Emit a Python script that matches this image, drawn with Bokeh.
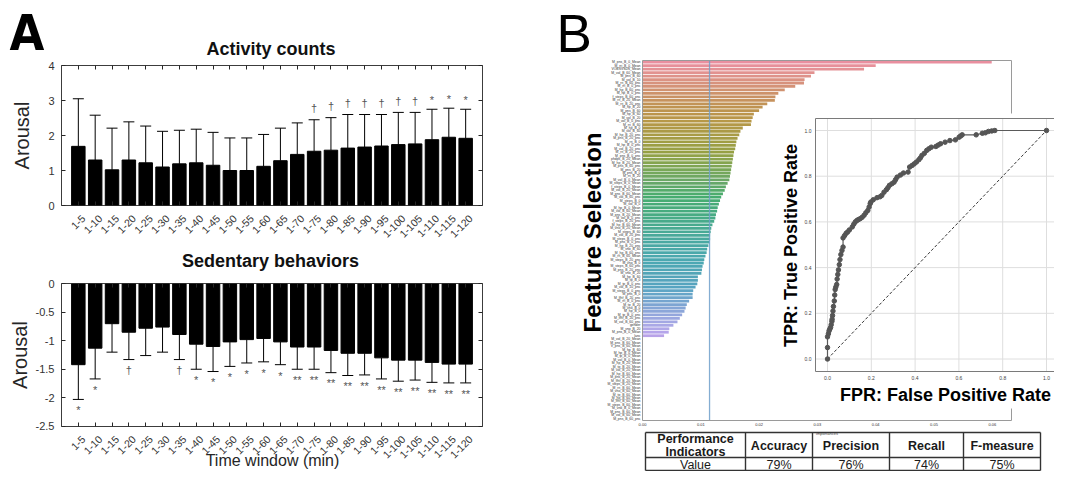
import math
import colorsys
from bokeh.plotting import figure
from bokeh.models import Range1d, LinearAxis, FixedTicker, Whisker, TeeHead, ColumnDataSource
from bokeh.core.properties import value
from bokeh.embed import file_html
from bokeh.resources import INLINE

# ---------------- data ----------------
windows = ["1-5", "1-10", "1-15", "1-20", "1-25", "1-30", "1-35", "1-40", "1-45", "1-50",
           "1-55", "1-60", "1-65", "1-70", "1-75", "1-80", "1-85", "1-90", "1-95", "1-100",
           "1-105", "1-110", "1-115", "1-120"]
activity_mean = [1.69, 1.30, 1.02, 1.30, 1.22, 1.10, 1.19, 1.22, 1.15, 1.00, 1.00, 1.12,
                 1.28, 1.46, 1.55, 1.58, 1.64, 1.67, 1.70, 1.74, 1.76, 1.88, 1.95, 1.92]
activity_sd = [1.36, 1.28, 1.19, 1.09, 1.05, 1.02, 0.96, 0.96, 0.94, 0.93, 0.93, 0.91,
               0.93, 0.90, 0.90, 0.93, 0.96, 0.93, 0.90, 0.92, 0.90, 0.87, 0.83, 0.83]
activity_marks = ["", "", "", "", "", "", "", "", "", "", "", "", "", "",
                  "†", "†", "†", "†", "†", "†", "†", "*", "*", "*"]
sedentary_mean = [-1.42, -1.13, -0.70, -0.85, -0.78, -0.76, -0.89, -1.06, -1.10, -1.02, -0.98, -0.96,
                  -1.02, -1.11, -1.11, -1.17, -1.22, -1.22, -1.30, -1.34, -1.34, -1.38, -1.41, -1.41]
sedentary_sd = [0.61, 0.54, 0.50, 0.48, 0.48, 0.44, 0.44, 0.44, 0.44, 0.43, 0.41, 0.41,
                0.40, 0.39, 0.39, 0.39, 0.39, 0.38, 0.37, 0.37, 0.35, 0.35, 0.33, 0.33]
sedentary_marks = ["*", "*", "", "†", "", "", "†", "*", "*", "*", "*", "*", "*",
                   "**", "**", "**", "**", "**", "**", "**", "**", "**", "**", "**"]
activity_yticks = [0, 1, 2, 3, 4]
sedentary_yticks = [0, -0.5, -1, -1.5, -2, -2.5]
sedentary_ylabels = ["0", "-0.5", "-1", "-1.5", "-2", "-2.5"]

feature_names = [
    "M_pns_B_0_Mean", "M_rri_B_0_Mean", "VOBSVSDS_Mean", "M_vol_B_60_Mean", "M_pns_B_60", "M_vol_B_10",
    "M_rri_B_60_pnc", "M_rri_B_0_pnc", "M_hp_B_60_pnc", "M_hp_B_0_pnc",
    "f_steps_B_60_pnc", "M_rri_B_20_Mean", "M_rri_B_20_pnc", "M_hp_B_20", "M_pns_B_60", "M_hp_B_60",
    "M_vol_B_20", "M_vol_B_0_pnc", "M_rri_B_60", "M_hp_B_0",
    "M_vol_B_60", "M_hp_B_20_pnc", "M_pns_B_20_pnc", "M_rri_B_0", "M_hp_B_0_pnc", "M_vol_B_20_pnc",
    "M_rri_B_20_pnc", "M_pns_B_0_pnc", "phdps_B_20_Mean", "M_hp_B_20_Mean",
    "M_pns_B_60_pnc", "M_pns_B_20", "M_pns_B_0", "M_rri_B_20", "M_vol_B_0_Mean", "M_steps_B_0_Mean",
    "f_steps_B_0_Mean", "M_vol_B_20_Mean", "M_pns_B_60_Mean", "M_vol_B_60_pnc",
    "M_steps_B_0", "M_vol_B_0", "M_hp_B_0_Mean", "M_vol_B_60_Mean", "M_pns_B_20_Mean", "M_vol_B_0_pnc",
    "f_steps_B_20_pnc", "M_hp_B_60_Mean", "M_vno_B_20_Mean", "M_steps_B_60",
    "M_vol_B_20_pnc", "M_steps_B_0_pnc", "M_pns_B_0_pnc", "M_hp_B_20_pnc", "M_vno_B_60", "M_hp_B_60_pnc",
    "M_rri_B_60_Mean", "M_steps_B_20_pnc", "M_vno_B_0", "M_steps_B_60_pnc",
    "M_pns_B_20_pnc", "M_vno_B_20", "M_hp_B_60", "M_tp_B_0", "M_tp_B_0_pnc", "M_vol_B_10_pnc",
    "M_steps_B_0_pnc", "M_pns_B_0", "M_lfhf_B_20_pnc", "M_rri_B_0_pnc",
    "M_tp_B_20", "M_vno_B_0", "M_hp_B_0", "M_tp_B_0_pnc", "M_lfhf_B_20_pnc", "M_vol_B_60_pnc",
    "gender", "M_vno_B_20", "M_pns_B_0_Mean", "lanc",
    "M_vol_B_20_Mean", "M_pns_B_60_Mean", "V_pns_B_60_Mean", "M_hp_B_60", "M_hp_B_0_Mean", "M_tp_B_0_Mean",
    "M_vol_B_0_Mean", "M_hp_B_20_Mean", "M_tp_B_20_Mean", "M_vol_B_20_Mean", "M_hp_B_60_Mean",
    "M_pns_B_20_Mean", "M_lfhf_B_20_Mean", "M_steps_B_20_Mean", "M_rri_B_60_Mean", "M_vno_B_60_Mean",
    "M_tp_B_60_Mean", "M_hp_B_60_Mean", "M_lfhf_B_60_Mean", "M_steps_B_60_Mean", "M_vno_B_0_Mean",
    "M_pns_B_60_Mean", "M_vol_B_60_Mean", "M_pns_B_60_pnc"]
feature_importance = [
    0.0599, 0.0400, 0.0380, 0.0295, 0.0289, 0.0278, 0.0277, 0.0262, 0.0244, 0.0233,
    0.0228, 0.0227, 0.0214, 0.0206, 0.0200, 0.0191, 0.0189, 0.0187, 0.0186, 0.0172,
    0.0168, 0.0166, 0.0163, 0.0161, 0.0160, 0.0159, 0.0157, 0.0156, 0.0155, 0.0154,
    0.0153, 0.0152, 0.0151, 0.0150, 0.0149, 0.0146, 0.0143, 0.0141, 0.0138, 0.0135,
    0.0133, 0.0131, 0.0129, 0.0128, 0.0126, 0.0125, 0.0123, 0.0120, 0.0118, 0.0117,
    0.0116, 0.0116, 0.0115, 0.0113, 0.0111, 0.0110, 0.0108, 0.0106, 0.0105, 0.0103,
    0.0102, 0.0101, 0.0095, 0.0095, 0.0094, 0.0091, 0.0087, 0.0086, 0.0086, 0.0080,
    0.0076, 0.0074, 0.0072, 0.0068, 0.0064, 0.0060, 0.0053, 0.0046, 0.0045, 0.0037]
importance_threshold = 0.0115
importance_ticks = [0.0, 0.01, 0.02, 0.03, 0.04, 0.05, 0.06]
importance_tick_labels = ["0.00", "0.01", "0.02", "0.03", "0.04", "0.05", "0.06"]

fpr = [0.0, 0.0, 0.0, 0.004, 0.007, 0.010, 0.014, 0.017, 0.020, 0.021, 0.023, 0.025, 0.027, 0.031,
       0.033, 0.035, 0.038, 0.042, 0.044, 0.047, 0.050, 0.054, 0.057, 0.061, 0.066, 0.071, 0.071,
       0.078, 0.085, 0.092, 0.100, 0.113, 0.120, 0.127, 0.134, 0.141, 0.149, 0.158, 0.167, 0.175,
       0.184, 0.190, 0.195, 0.198, 0.209, 0.226, 0.240, 0.248, 0.258, 0.269, 0.276, 0.283, 0.294,
       0.304, 0.311, 0.318, 0.333, 0.347, 0.368, 0.375, 0.386, 0.396, 0.406, 0.417, 0.424, 0.431,
       0.442, 0.453, 0.463, 0.474, 0.495, 0.505, 0.516, 0.537, 0.559, 0.584, 0.601, 0.608, 0.615,
       0.679, 0.707, 0.721, 0.735, 0.750, 0.764, 1.0]
tpr = [0.0, 0.05, 0.097, 0.110, 0.123, 0.130, 0.138, 0.150, 0.165, 0.174, 0.190, 0.210, 0.230, 0.254,
       0.280, 0.304, 0.315, 0.326, 0.350, 0.370, 0.390, 0.413, 0.435, 0.457, 0.475, 0.490, 0.530,
       0.540, 0.550, 0.556, 0.565, 0.578, 0.590, 0.600, 0.606, 0.610, 0.614, 0.620, 0.629, 0.640,
       0.650, 0.665, 0.680, 0.687, 0.697, 0.706, 0.710, 0.716, 0.730, 0.741, 0.750, 0.760, 0.767,
       0.774, 0.785, 0.796, 0.805, 0.814, 0.818, 0.840, 0.847, 0.854, 0.862, 0.872, 0.880, 0.891,
       0.900, 0.913, 0.920, 0.927, 0.930, 0.936, 0.942, 0.949, 0.956, 0.959, 0.971, 0.976, 0.981,
       0.981, 0.988, 0.990, 0.996, 0.998, 1.0, 1.0]
roc_ticks = [0.0, 0.2, 0.4, 0.6, 0.8, 1.0]
roc_tick_labels = ["0.0", "0.2", "0.4", "0.6", "0.8", "1.0"]
chance = [0.0, 1.0]

table_header = ["Performance\nIndicators", "Accuracy", "Precision", "Recall", "F-measure"]
table_values = ["Value", "79%", "76%", "74%", "75%"]

# ---------------- layout (page pixel geometry) ----------------
FX0, FX1 = 0, 1054
FY0, FY1 = 0, 471
FONT = "Liberation Sans"


def rng(d0, p0, d1, p1, a, b):
    k = (d1 - d0) / (p1 - p0)
    return Range1d(start=d0 + (a - p0) * k, end=d0 + (b - p0) * k)


p = figure(width=FX1 - FX0, height=FY1 - FY0, x_range=Range1d(FX0, FX1), y_range=Range1d(FY1, FY0),
           x_axis_location=None, y_axis_location=None, toolbar_location=None,
           output_backend="svg", min_border=0, title=None)
p.outline_line_color = None
p.background_fill_color = "white"
p.border_fill_color = "white"
p.xgrid.grid_line_color = None
p.ygrid.grid_line_color = None

n_win = len(windows)
idx = list(range(n_win))
n_feat = len(feature_names)
rows = list(range(n_feat))

IMP_PX0, IMP_PX_PER = 642.0, 5830.0
imp_max = (1011 - IMP_PX0) / IMP_PX_PER

p.extra_x_ranges = {
    "win": rng(-1, 61, n_win, 482, FX0, FX1),
    "imp": rng(0.0, IMP_PX0, 0.01, IMP_PX0 + IMP_PX_PER * 0.01, FX0, FX1),
    "rocx": rng(0.0, 827, 1.0, 1046, FX0, FX1),
}
p.extra_y_ranges = {
    "acy": rng(0, 205, 4, 65, FY1, FY0),
    "sby": rng(0, 283.3, -2.5, 425.7, FY1, FY0),
    "feat": rng(-0.5, 60, n_feat - 0.5, 420, FY1, FY0),
    "rocy": rng(0.0, 358.5, 1.0, 130, FY1, FY0),
}


def add_axis(side, xr, yr, loc, bounds, ticks, labels=None, show_labels=True, style=None):
    ax = LinearAxis(x_range_name=xr, y_range_name=yr, fixed_location=loc, bounds=bounds,
                    ticker=FixedTicker(ticks=list(ticks)))
    for k, v in (style or {}).items():
        setattr(ax, k, v)
    if labels is not None:
        ax.major_label_overrides = {t: l for t, l in zip(ticks, labels)}
    if not show_labels:
        ax.major_label_text_color = None
    p.add_layout(ax, side)
    return ax


def label(x, y, s, size, bold=False, angle=0.0, color="black", font=FONT, align="center"):
    p.text(x=[x], y=[y], text=[s], angle=angle, text_align=align, text_baseline="middle",
           text_font=value(font), text_font_style="bold" if bold else "normal",
           text_font_size=size, text_color=color)


mat = dict(axis_line_color="#262626", axis_line_width=0.9, major_tick_line_color="#262626",
           major_tick_in=4, major_tick_out=0, major_label_text_font=FONT,
           major_label_text_color="#333333", major_label_text_font_size="11px")
ylab = dict(mat, major_label_standoff=7, axis_label="Arousal", axis_label_text_font=FONT,
            axis_label_text_font_size="20px", axis_label_text_font_style="normal",
            axis_label_text_color="#262626")
xlab_glyph = dict(angle=math.pi / 4, text_align="right", text_baseline="middle", x_offset=5, y_offset=11,
                  text_font=value(FONT), text_font_size="10.5px", text_color="#333333")

# ---------------- A: Activity counts ----------------
p.vbar(x=idx, top=activity_mean, bottom=0, width=0.8, fill_color="black", line_color="black",
       x_range_name="win", y_range_name="acy")
src_a = ColumnDataSource(dict(x=idx, lo=activity_mean,
                              hi=[m + s for m, s in zip(activity_mean, activity_sd)]))
p.add_layout(Whisker(source=src_a, base="x", lower="lo", upper="hi", dimension="height",
                     x_range_name="win", y_range_name="acy", line_color="black", line_width=1,
                     upper_head=TeeHead(size=11, line_color="black", line_width=1), lower_head=None))
p.text(x=idx, y=[m + s + (0.34 if mk == "†" else 0.27) for m, s, mk in zip(activity_mean, activity_sd, activity_marks)],
       text=activity_marks, x_range_name="win", y_range_name="acy", text_align="center",
       text_baseline="middle", text_font_size="11px", text_color="#555555", text_font=value(FONT))
add_axis("below", "win", "acy", 0, (-1, n_win), idx, show_labels=False, style=mat)
add_axis("above", "win", "acy", 4, (-1, n_win), idx, show_labels=False, style=mat)
add_axis("left", "win", "acy", -1, (0, 4), activity_yticks, style=dict(ylab, axis_label_standoff=12))
add_axis("right", "win", "acy", n_win, (0, 4), activity_yticks, show_labels=False, style=mat)
p.text(x=idx, y=[0] * n_win, text=windows, x_range_name="win", y_range_name="acy", **xlab_glyph)

# ---------------- A: Sedentary behaviors ----------------
p.vbar(x=idx, top=0, bottom=sedentary_mean, width=0.8, fill_color="black", line_color="black",
       x_range_name="win", y_range_name="sby")
src_s = ColumnDataSource(dict(x=idx, hi=sedentary_mean,
                              lo=[m - s for m, s in zip(sedentary_mean, sedentary_sd)]))
p.add_layout(Whisker(source=src_s, base="x", lower="lo", upper="hi", dimension="height",
                     x_range_name="win", y_range_name="sby", line_color="black", line_width=1,
                     lower_head=TeeHead(size=11, line_color="black", line_width=1), upper_head=None))
p.text(x=idx, y=[m - s - 0.19 for m, s in zip(sedentary_mean, sedentary_sd)], text=sedentary_marks,
       x_range_name="win", y_range_name="sby", text_align="center", text_baseline="middle",
       text_font_size="11px", text_color="#555555", text_font=value(FONT))
add_axis("below", "win", "sby", -2.5, (-1, n_win), idx, show_labels=False, style=mat)
add_axis("above", "win", "sby", 0, (-1, n_win), idx, show_labels=False, style=mat)
add_axis("left", "win", "sby", -1, (-2.5, 0), sedentary_yticks, labels=sedentary_ylabels,
         style=dict(ylab, axis_label_standoff=2))
add_axis("right", "win", "sby", n_win, (-2.5, 0), sedentary_yticks, show_labels=False, style=mat)
p.text(x=idx, y=[-2.5] * n_win, text=windows, x_range_name="win", y_range_name="sby", **xlab_glyph)

# titles / panel letters (y = visual centre)
label(270.5, 48.5, "Activity counts", "18px", bold=True, color="#111111")
label(270, 260.5, "Sedentary behaviors", "18px", bold=True, color="#111111")
label(272, 460, "Time window (min)", "16px", color="#262626")
label(9, 32.5, "A", "50px", bold=True, font="DejaVu Sans Condensed", align="left")
label(556, 32.5, "B", "53px", align="left")

# ---------------- B: feature selection ----------------
husl8 = ["#f77189", "#ce9032", "#97a431", "#32b166", "#36ada4", "#39a7d0", "#a48cf4", "#f561dd"]


def h2rgb(h):
    return [int(h[i:i + 2], 16) / 255 for i in (1, 3, 5)]


def bar_palette(n):
    out = []
    for k in range(n):
        t = k / n * 8
        i = int(t)
        f = t - i
        a, b = h2rgb(husl8[i % 8]), h2rgb(husl8[(i + 1) % 8])
        r, g, bb = [a[j] + (b[j] - a[j]) * f for j in range(3)]
        hh, ll, ss = colorsys.rgb_to_hls(r, g, bb)
        r, g, bb = colorsys.hls_to_rgb(hh, min(1.0, ll + 0.03), ss * 0.75)
        out.append("#%02x%02x%02x" % (round(r * 255), round(g * 255), round(bb * 255)))
    return out


colors = bar_palette(n_feat)[:len(feature_importance)]
p.hbar(y=rows[:len(feature_importance)], left=0, right=feature_importance, height=0.8,
       fill_color=colors, line_color=None, x_range_name="imp", y_range_name="feat")
p.segment(x0=[importance_threshold], y0=[-0.5], x1=[importance_threshold], y1=[n_feat - 0.5],
          line_color="#6f9fca", line_width=1.3, line_alpha=0.85, x_range_name="imp", y_range_name="feat")
p.multi_line(xs=[[0, imp_max], [imp_max, imp_max]], ys=[[-0.5, -0.5], [-0.5, n_feat - 0.5]],
             line_color="#9a9a9a", line_width=1, x_range_name="imp", y_range_name="feat")
feat_style = dict(axis_line_color="#9a9a9a", major_tick_in=0, major_tick_out=0, major_label_standoff=2,
                  major_label_text_font=FONT, major_label_text_font_size="3.4px",
                  major_label_text_color="#333333")
add_axis("left", "imp", "feat", 0.0, (-0.5, n_feat - 0.5), rows, labels=feature_names, style=feat_style)
add_axis("below", "imp", "feat", n_feat - 0.5, (0, imp_max), importance_ticks, labels=importance_tick_labels,
         style=dict(feat_style, major_label_text_font_size="4px", axis_label="importances",
                    axis_label_text_font=FONT, axis_label_text_font_size="4px",
                    axis_label_text_font_style="normal", axis_label_standoff=2))
label(592, 232, "Feature Selection", "24px", bold=True, angle=math.pi / 2)

# ---------------- B: ROC inset ----------------
p.quad(left=[778], right=[1075], top=[113], bottom=[408], fill_color="white", line_color=None)
roc_px_per = 1046 - 827
roc_x0 = (815 - 827) / roc_px_per
roc_y0 = -(371 - 358.5) / 228.5
roc_x1 = (1060 - 827) / roc_px_per
roc_y1 = (358.5 - 118) / 228.5
p.segment(x0=roc_ticks, y0=[roc_y0] * len(roc_ticks), x1=roc_ticks, y1=[roc_y1] * len(roc_ticks),
          line_color="#dedede", line_width=1, x_range_name="rocx", y_range_name="rocy")
p.segment(x0=[roc_x0] * len(roc_ticks), y0=roc_ticks, x1=[roc_x1] * len(roc_ticks), y1=roc_ticks,
          line_color="#dedede", line_width=1, x_range_name="rocx", y_range_name="rocy")
p.quad(left=[815], right=[1060], top=[118], bottom=[371], fill_color=None, line_color="#7a7a7a",
       line_width=1)
p.line(x=chance, y=chance, line_color="black", line_width=0.8, line_dash="3 2",
       x_range_name="rocx", y_range_name="rocy")
p.line(x=fpr, y=tpr, line_color="#5a5a5a", line_width=1.2, x_range_name="rocx", y_range_name="rocy")
p.scatter(x=fpr, y=tpr, size=4.5, fill_color="#555555", line_color="#555555",
          x_range_name="rocx", y_range_name="rocy")
roc_ax = dict(axis_line_color=None, major_tick_line_color=None, major_tick_in=0, major_tick_out=0,
              major_label_text_font=FONT, major_label_text_font_size="5px",
              major_label_text_color="#444444", major_label_standoff=4)
add_axis("below", "rocx", "rocy", roc_y0, (0, 1), roc_ticks, labels=roc_tick_labels, style=roc_ax)
add_axis("left", "rocx", "rocy", roc_x0, (0, 1), roc_ticks, labels=roc_tick_labels, style=roc_ax)
label(790, 245, "TPR: True Positive Rate", "18px", bold=True, angle=math.pi / 2)
label(945, 394.5, "FPR: False Positive Rate", "18px", bold=True)

# ---------------- B: performance table ----------------
col_edges = [645, 745, 812, 889, 963, 1040]
row_edges = [432, 457, 470]
p.multi_line(xs=[[c, c] for c in col_edges] + [[col_edges[0], col_edges[-1]] for _ in row_edges],
             ys=[[row_edges[0], row_edges[-1]] for _ in col_edges] + [[r, r] for r in row_edges],
             line_color="#333333", line_width=1.4)
col_mid = [(a + b) / 2 for a, b in zip(col_edges[:-1], col_edges[1:])]
p.text(x=col_mid, y=[(row_edges[0] + row_edges[1]) / 2 + 0.5] * len(col_mid), text=table_header,
       text_align="center", text_baseline="middle", text_font=value(FONT), text_font_style="bold",
       text_font_size="12.5px", text_color="#1a1a1a", text_line_height=0.95)
p.text(x=col_mid, y=[(row_edges[1] + row_edges[2]) / 2 + 0.5] * len(col_mid), text=table_values,
       text_align="center", text_baseline="middle", text_font=value(FONT),
       text_font_size="12.5px", text_color="#1a1a1a")

open("out.html", "w").write(file_html(p, INLINE))
